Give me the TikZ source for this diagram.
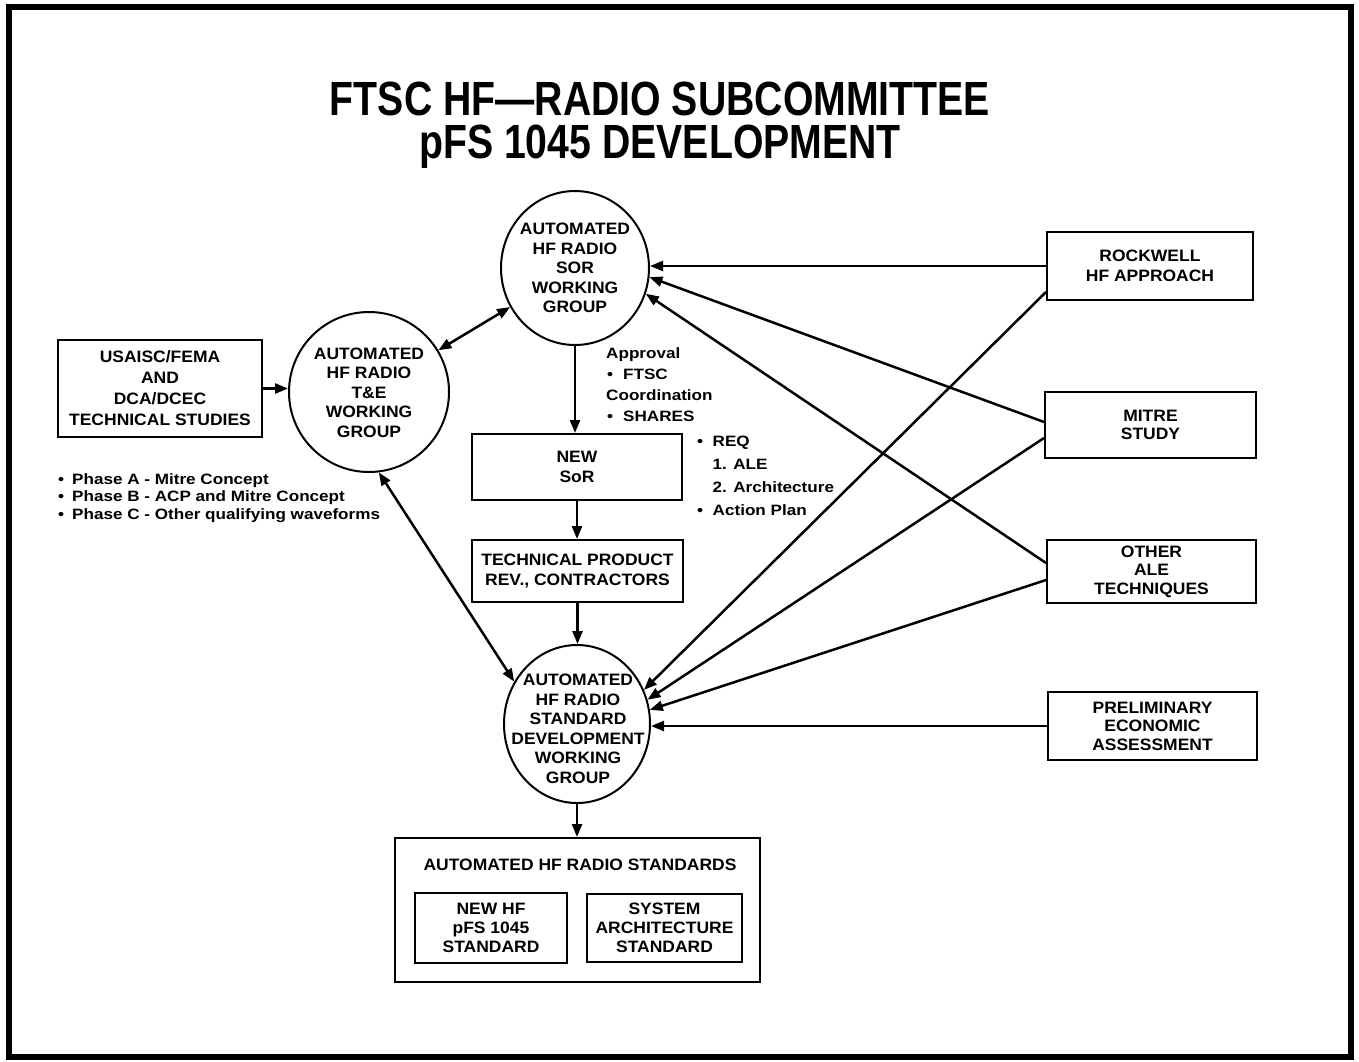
\documentclass[tikz,border=0pt]{standalone}
\usepackage{fontspec}
\setmainfont{Liberation Sans}
\newfontfamily\bodyfont{Liberation Sans}[FakeStretch=1.06]
\newfontfamily\notefont{Liberation Sans}[FakeStretch=1.14]
\newfontfamily\titlefont{Liberation Sans}[FakeStretch=0.817]
\usetikzlibrary{arrows.meta,shapes.geometric}
\tikzset{
  boxst/.style={draw, line width=2pt, rectangle, align=center, inner sep=0pt,
    font=\bodyfont\bfseries\fontsize{16.5}{19.5}\selectfont},
  ellst/.style={draw, line width=2pt, ellipse, inner sep=0pt},
  txtst/.style={align=center, inner sep=0pt,
    font=\bodyfont\bfseries\fontsize{16.5}{19.5}\selectfont},
  notest/.style={align=left, inner sep=0pt, anchor=north west},
  titlest/.style={inner sep=0pt, anchor=north, align=center,
    font=\titlefont\bfseries\fontsize{48}{43}\selectfont},
  arrst/.style={line width=2.5pt, -{Triangle[length=13pt,width=10pt]}},
  darrst/.style={line width=2.5pt, {Triangle[length=13pt,width=10pt]}-{Triangle[length=13pt,width=10pt]}}
}
\begin{document}
\begin{tikzpicture}[x=1pt,y=-1pt]
\useasboundingbox (0,0) rectangle (1359,1061);
\draw[line width=5.5pt] (9,7) rectangle (1351,1057);

% title
\node[titlest] (title) at (660,81.5) {FTSC HF—RADIO SUBCOMMITTEE\\pFS 1045 DEVELOPMENT};

% circles
\node[ellst, minimum width=148pt, minimum height=154pt] (sor) at (575,268) {};
\node[txtst] (sortxt) at (575,268) {AUTOMATED\\HF RADIO\\SOR\\WORKING\\GROUP};

\node[ellst, minimum width=160pt, minimum height=160pt] (te) at (369,392) {};
\node[txtst] (tetxt) at (369,392.5) {AUTOMATED\\HF RADIO\\T\&E\\WORKING\\GROUP};

\node[ellst, minimum width=146pt, minimum height=158pt] (std) at (577,724) {};
\node[txtst] (stdtxt) at (578,729) {AUTOMATED\\HF RADIO\\STANDARD\\DEVELOPMENT\\WORKING\\GROUP};

% boxes
\node[boxst, minimum width=204pt, minimum height=97pt,
  font=\bodyfont\bfseries\fontsize{16.5}{21}\selectfont] (usa) at (160,388.5)
  {USAISC/FEMA\\AND\\DCA/DCEC\\TECHNICAL STUDIES};
\node[boxst, minimum width=210pt, minimum height=66pt,
  font=\bodyfont\bfseries\fontsize{16.5}{20}\selectfont] (new) at (577,467) {NEW\\SoR};
\node[boxst, minimum width=211pt, minimum height=62pt,
  font=\bodyfont\bfseries\fontsize{16.5}{20}\selectfont] (tech) at (577.5,571)
  {TECHNICAL PRODUCT\\REV., CONTRACTORS};

\node[boxst, minimum width=206pt, minimum height=68pt,
  font=\bodyfont\bfseries\fontsize{16.5}{20}\selectfont] (rock) at (1150,266) {ROCKWELL\\HF APPROACH};
\node[boxst, minimum width=211pt, minimum height=66pt,
  font=\bodyfont\bfseries\fontsize{16.5}{18.5}\selectfont] (mitre) at (1150.5,425) {MITRE\\STUDY};
\node[boxst, minimum width=209pt, minimum height=63pt,
  font=\bodyfont\bfseries\fontsize{16.5}{18.5}\selectfont] (other) at (1151.5,571.5) {OTHER\\ALE\\TECHNIQUES};
\node[boxst, minimum width=209pt, minimum height=68pt,
  font=\bodyfont\bfseries\fontsize{16.5}{18.5}\selectfont] (prelim) at (1152.5,726) {PRELIMINARY\\ECONOMIC\\ASSESSMENT};

% bottom standards box
\node[boxst, minimum width=365pt, minimum height=144pt] (big) at (577.5,910) {};
\node[txtst, anchor=base] (bigtitle) at (580,870) {AUTOMATED HF RADIO STANDARDS};
\node[boxst, minimum width=152pt, minimum height=70pt,
  font=\bodyfont\bfseries\fontsize{16.5}{19}\selectfont] (std1) at (491,928) {NEW HF\\pFS 1045\\STANDARD};
\node[boxst, minimum width=155pt, minimum height=68pt,
  font=\bodyfont\bfseries\fontsize{16.5}{19}\selectfont] (std2) at (664.5,928) {SYSTEM\\ARCHITECTURE\\STANDARD};

% notes
\node[notest, font=\notefont\bfseries\fontsize{15}{21.3}\selectfont] (appr) at (606,347)
  {Approval\\\makebox[17pt][l]{\hspace{1pt}\textbullet}FTSC\\Coordination\\\makebox[17pt][l]{\hspace{1pt}\textbullet}SHARES};
\node[notest, font=\notefont\bfseries\fontsize{15}{23}\selectfont] (req) at (697,436.3)
  {\makebox[15.5pt][l]{\textbullet}REQ\\\makebox[15.5pt][l]{}1. ALE\\\makebox[15.5pt][l]{}2. Architecture\\\makebox[15.5pt][l]{\textbullet}Action Plan};
\node[notest, font=\notefont\bfseries\fontsize{15}{17.5}\selectfont] (phase) at (58,473)
  {\makebox[14pt][l]{\textbullet}Phase A - Mitre Concept\\\makebox[14pt][l]{\textbullet}Phase B - ACP and Mitre Concept\\\makebox[14pt][l]{\textbullet}Phase C - Other qualifying waveforms};

% connectors
\draw[arrst] (usa.east) -- (usa.east -| te.west);
\draw[darrst] (te) -- (sor);
\draw[darrst] (te.-83) -- (std.146);
\draw[arrst] (sor.south) -- (sor.south |- new.north);
\draw[arrst] (new.south) -- (new.south |- tech.north);
\draw[arrst] (tech.south) -- (tech.south |- std.north);
\draw[arrst] (std.south) -- (std.south |- big.north);

\draw[arrst] (rock.west) -- (rock.west -| sor.east);
\draw[arrst] ([yshift=3pt]mitre.west) -- (sor.-7);
\draw[arrst] ([yshift=8.5pt]other.west) -- (sor.-20);
\draw[arrst] ([yshift=-26pt]rock.west) -- (std.27);
\draw[arrst] ([yshift=-13pt]mitre.west) -- (std.19);
\draw[arrst] ([yshift=-8.5pt]other.west) -- (std.11);
\draw[arrst] (prelim.west) -- (prelim.west -| std.east);
\end{tikzpicture}
\end{document}
